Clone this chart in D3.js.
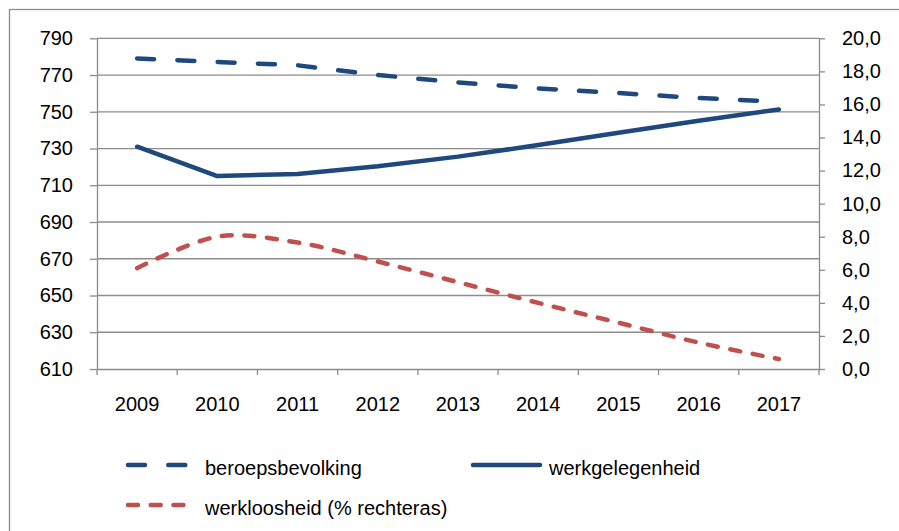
<!DOCTYPE html>
<html>
<head>
<meta charset="utf-8">
<script src="https://cdn.jsdelivr.net/npm/d3@7"></script>
<style>
  body { margin: 0; background: #fff; }
  text { font-family: "Liberation Sans", Arial, sans-serif; fill: #000; }
</style>
</head>
<body>
<div id="container"></div>
<script>
var width = 899,
    height = 531;

// data
var years = ["2009", "2010", "2011", "2012", "2013", "2014", "2015", "2016", "2017"];
var beroepsbevolking = [779, 777.1, 775.3, 770, 766, 762.7, 760.2, 757.5, 755.5];
var werkgelegenheid = [731, 715, 716.2, 720.4, 725.6, 731.9, 738.6, 745.1, 751.3];
var werkloosheid = [6.1, 8.0, 7.65, 6.5, 5.25, 4.0, 2.8, 1.6, 0.6];   // % rechteras
var leftTicks = [610, 630, 650, 670, 690, 710, 730, 750, 770, 790];
var rightTicks = [0, 2, 4, 6, 8, 10, 12, 14, 16, 18, 20];

var blue = "#1F497D",
    red = "#C0504D",
    grid = "#8c8c8c";

var nl = d3.formatLocale({decimal: ",", thousands: ".", grouping: [3], currency: ["€", ""]});

var svg = d3.select("#container").append("svg")
  .attr("width", width)
  .attr("height", height);

// outer chart border (right and bottom run off the picture)
svg.append("rect")
  .attr("x", 9.5).attr("y", 9.5)
  .attr("width", 900).attr("height", 530)
  .attr("fill", "none")
  .attr("stroke", grid)
  .attr("stroke-width", 1.3);

var x = d3.scaleBand().domain(years).range([97, 819]);
var yL = d3.scaleLinear().domain([610, 790]).range([369, 38.3]);
var yR = d3.scaleLinear().domain([0, 20]).range([369, 38.3]);

// gridlines
svg.append("g")
  .selectAll("line")
  .data(leftTicks.slice(1))
  .enter().append("line")
  .attr("x1", 97).attr("x2", 819)
  .attr("y1", function(d) { return yL(d); })
  .attr("y2", function(d) { return yL(d); })
  .attr("stroke", grid)
  .attr("stroke-width", 1.3);

// left axis
var gl = svg.append("g")
  .attr("transform", "translate(97,0)")
  .call(d3.axisLeft(yL).tickValues(leftTicks).tickSize(7).tickSizeOuter(0).tickPadding(17));

// right axis
var gr = svg.append("g")
  .attr("transform", "translate(819,0)")
  .call(d3.axisRight(yR).tickValues(rightTicks).tickSize(6).tickSizeOuter(0).tickPadding(17)
    .tickFormat(nl.format(".1f")));

// bottom axis: labels centred, ticks on the category boundaries
var gb = svg.append("g")
  .attr("transform", "translate(0,369)")
  .call(d3.axisBottom(x).tickSize(0).tickSizeOuter(0).tickPadding(28));

svg.append("g")
  .selectAll("line")
  .data(d3.range(years.length + 1))
  .enter().append("line")
  .attr("x1", function(i) { return x.range()[0] + i * x.step(); })
  .attr("x2", function(i) { return x.range()[0] + i * x.step(); })
  .attr("y1", 369).attr("y2", 375)
  .attr("stroke", grid)
  .attr("stroke-width", 1.3);

[gl, gr, gb].forEach(function(g) {
  g.selectAll("path, line").attr("stroke", grid).attr("stroke-width", 1.3);
  g.selectAll("text").style("font-size", "20px").attr("fill", "#000");
});

var cx = function(d, i) { return x(years[i]) + x.bandwidth() / 2; };

var lineL = d3.line().x(cx).y(function(d) { return yL(d); });
var lineR = d3.line().x(cx).y(function(d) { return yR(d); }).curve(d3.curveCatmullRom.alpha(0));

//draw the three series
svg.append("path")
  .datum(beroepsbevolking)
  .attr("d", lineL)
  .attr("fill", "none")
  .attr("stroke", blue)
  .attr("stroke-width", 4.5)
  .attr("stroke-linecap", "round")
  .attr("stroke-dasharray", "17,23.3");

svg.append("path")
  .datum(werkgelegenheid)
  .attr("d", lineL)
  .attr("fill", "none")
  .attr("stroke", blue)
  .attr("stroke-width", 4.5)
  .attr("stroke-linecap", "round")
  .attr("stroke-linejoin", "round");

svg.append("path")
  .datum(werkloosheid)
  .attr("d", lineR)
  .attr("fill", "none")
  .attr("stroke", red)
  .attr("stroke-width", 4.5)
  .attr("stroke-linecap", "round")
  .attr("stroke-dasharray", "10,12.7");

// legend
var legend = [
  {name: "beroepsbevolking", color: blue, dash: "17,23.3", x: 128, len: 60, y: 465},
  {name: "werkgelegenheid", color: blue, dash: null, x: 473, len: 67, y: 465},
  {name: "werkloosheid (% rechteras)", color: red, dash: "10,12.7", x: 128, len: 56, y: 505}
];

var lg = svg.append("g").selectAll("g")
  .data(legend)
  .enter().append("g");

lg.append("line")
  .attr("x1", function(d) { return d.x; })
  .attr("x2", function(d) { return d.x + d.len; })
  .attr("y1", function(d) { return d.y; })
  .attr("y2", function(d) { return d.y; })
  .attr("stroke", function(d) { return d.color; })
  .attr("stroke-width", 4.5)
  .attr("stroke-linecap", "round")
  .attr("stroke-dasharray", function(d) { return d.dash; });

lg.append("text")
  .attr("x", function(d) { return d.name == "werkgelegenheid" ? 549 : 205; })
  .attr("y", function(d) { return d.y + 10; })
  .style("font-size", "20px")
  .text(function(d) { return d.name; });
</script>
</body>
</html>
